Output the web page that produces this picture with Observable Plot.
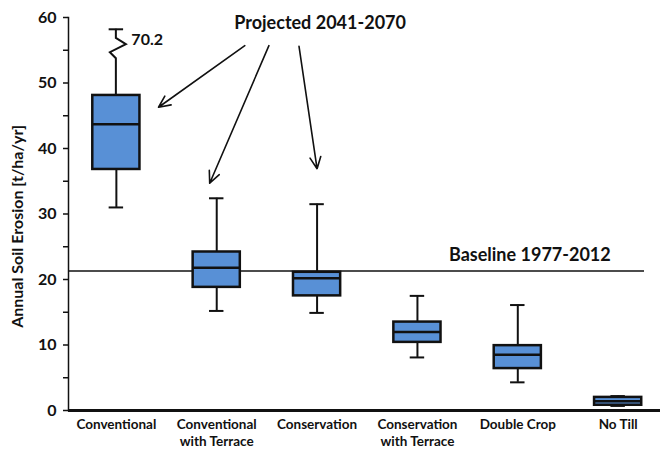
<!DOCTYPE html>
<html>
<head>
<meta charset="utf-8">
<script src="https://cdn.jsdelivr.net/npm/d3@7"></script>
<script src="https://cdn.jsdelivr.net/npm/@observablehq/plot@0.6"></script>
<style>
  html, body { margin: 0; padding: 0; background: #fff; }
</style>
</head>
<body>
<div id="chart"></div>
<script>
// ---- data ----
const categories = ["Conventional", "Conventional\nwith Terrace", "Conservation", "Conservation\nwith Terrace", "Double Crop", "No Till"];
const whiskerLow  = [31.0, 15.2, 14.9,  8.1,  4.3, 0.7];
const quartile1   = [36.8, 18.8, 17.5, 10.4,  6.4, 0.8];
const medians     = [43.7, 21.8, 20.2, 12.0,  8.5, 1.4];
const quartile3   = [48.1, 24.2, 21.1, 13.5,  9.9, 2.0];
const whiskerHigh = [70.2, 32.4, 31.5, 17.5, 16.1, 2.2];
const baselineValue = 21.3;
const yTicks = d3.range(0, 61, 5);
// axis break drawn on the over-range whisker (value shown on scale)
const breakCap = 58.2, breakTop = 56.8, breakBottom = 53.7;

// annotation anchors (category-index, value)
const arrows = [
  {x1: 1.28, y1: 55.7, x2: 0.42, y2: 46.3},
  {x1: 1.52, y1: 55.7, x2: 0.93, y2: 34.7},
  {x1: 1.82, y1: 55.6, x2: 2.00, y2: 36.9}
];

const rows = categories.map((c, i) => ({
  i, cat: c,
  lo: whiskerLow[i], q1: quartile1[i], med: medians[i], q3: quartile3[i],
  hi: whiskerHigh[i], hiShown: Math.min(whiskerHigh[i], breakCap),
  broken: whiskerHigh[i] > breakCap
}));

const boxHalf = 0.235, capHalf = 0.072;
const ink = "#111";
const boxFill = "#5890d6";

const brokenWhisker = (index, scales) => {
  const g = document.createElementNS("http://www.w3.org/2000/svg", "g");
  rows.filter(d => d.broken).forEach(d => {
    const X = scales.x(d.i), y = scales.y;
    const p = document.createElementNS("http://www.w3.org/2000/svg", "path");
    p.setAttribute("d",
      `M${X},${y(breakCap)}L${X},${y(breakTop)}L${X + 10},${y((breakTop * 2 + breakBottom) / 3 + 0.1)}` +
      `L${X - 6},${y((breakTop + breakBottom * 2) / 3 - 0.1)}L${X},${y(breakBottom)}L${X},${y(d.q3)}`);
    p.setAttribute("fill", "none");
    p.setAttribute("stroke", ink);
    p.setAttribute("stroke-width", 2);
    p.setAttribute("stroke-linejoin", "miter");
    g.appendChild(p);
  });
  return g;
};

const chart = Plot.plot({
  width: 660,
  height: 450,
  marginLeft: 68,
  marginRight: 0,
  marginTop: 17,
  marginBottom: 40,
  style: {fontFamily: "Lato, 'Open Sans', sans-serif", background: "#fff", color: ink},
  x: {type: "linear", domain: [-0.477, 5.422], axis: null},
  y: {domain: [0, 60], axis: null},
  marks: [
    Plot.ruleY([baselineValue], {stroke: ink, strokeWidth: 1.6, insetRight: 16}),
    // whiskers
    Plot.ruleX(rows, {x: "i", y1: "lo", y2: "q1", stroke: ink, strokeWidth: 2}),
    Plot.ruleX(rows.filter(d => !d.broken), {x: "i", y1: "q3", y2: "hi", stroke: ink, strokeWidth: 2}),
    brokenWhisker,
    Plot.ruleY(rows, {y: "lo", x1: d => d.i - capHalf, x2: d => d.i + capHalf, stroke: ink, strokeWidth: 2}),
    Plot.ruleY(rows, {y: "hiShown", x1: d => d.i - capHalf, x2: d => d.i + capHalf, stroke: ink, strokeWidth: 2}),
    // boxes
    Plot.rect(rows, {x1: d => d.i - boxHalf, x2: d => d.i + boxHalf, y1: "q1", y2: "q3",
      fill: boxFill, stroke: ink, strokeWidth: 2.5}),
    Plot.ruleY(rows, {y: "med", x1: d => d.i - boxHalf, x2: d => d.i + boxHalf, stroke: ink, strokeWidth: 2.5}),
    // axes
    Plot.frame({anchor: "left", stroke: ink, strokeWidth: 1.5}),
    Plot.axisY({ticks: yTicks, tickFormat: d => d % 10 === 0 ? d : "", tickSize: 5, tickPadding: 7,
      fontSize: 16, fontWeight: "bold", stroke: ink, strokeWidth: 1.5, label: null}),
    Plot.ruleY([0], {stroke: ink, strokeWidth: 3}),
    Plot.text(rows, {x: "i", y: 0, text: "cat", dy: 7, lineAnchor: "top", lineHeight: 1.25,
      fontSize: 13.5, fontWeight: "bold", fill: ink}),
    Plot.text(["Annual Soil Erosion [t/ha/yr]"], {y: [28.1], frameAnchor: "left", textAnchor: "middle", dx: -51, rotate: -90,
      fontSize: 16, fontWeight: "bold", fill: ink}),
    // annotations
    Plot.text(rows.filter(d => d.broken), {x: "i", y: "hiShown", text: d => String(d.hi), dx: 15, dy: 11,
      textAnchor: "start", fontSize: 16, fontWeight: "bold", fill: ink}),
    Plot.text(["Projected 2041-2070"], {x: 2.03, y: 59.2, fontSize: 18, fontWeight: "bold", fill: ink}),
    Plot.text(["Baseline 1977-2012"], {x: 4.12, y: baselineValue, dy: -16, fontSize: 18, fontWeight: "bold", fill: ink}),
    Plot.arrow(arrows, {x1: "x1", y1: "y1", x2: "x2", y2: "y2", stroke: ink, strokeWidth: 1.6,
      headLength: 12, headAngle: 50, inset: 0})
  ]
});
document.getElementById("chart").appendChild(chart);
</script>
</body>
</html>
